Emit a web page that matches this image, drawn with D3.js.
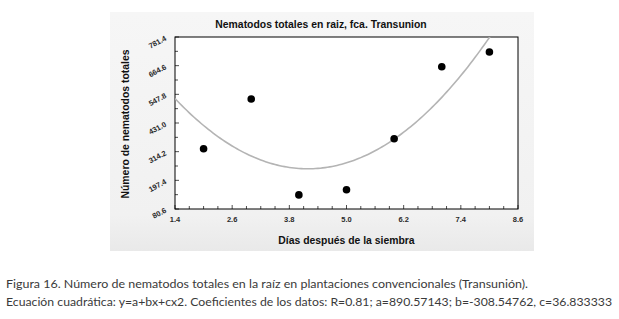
<!DOCTYPE html>
<meta charset="utf-8">
<style>
body { margin: 0; background: #fff; }
svg { font-family: Arial, "Liberation Sans", Helvetica, sans-serif; }
.caption { font-family: Lato, "Open Sans", sans-serif; fill: #3a3a3a; font-size: 11.5px; }
</style>
<body>
<script src="https://d3js.org/d3.v7.min.js"></script>
<script>
// data
const dias = [2, 3, 4, 5, 6, 7, 8];
const nematodos = [326, 529, 138, 159, 367, 660, 720];
const xTicks = [1.4, 2.6, 3.8, 5.0, 6.2, 7.4, 8.6];
const yTicks = [80.6, 197.4, 314.2, 431.0, 547.8, 664.6, 781.4];
// quadratic coefficients printed in the caption: y = a + b x + c x^2
const coef = [890.57143, -308.54762, 36.833333];

const svg = d3.select("body").append("svg")
  .attr("width", 619).attr("height", 319);

// grey panel behind the chart
const defs = svg.append("defs");
const grad = defs.append("linearGradient").attr("id", "panel")
  .attr("x1", 0).attr("y1", 0).attr("x2", 0).attr("y2", 1);
grad.append("stop").attr("offset", "0%").attr("stop-color", "#f6f6f6");
grad.append("stop").attr("offset", "85%").attr("stop-color", "#f1f1f1");
grad.append("stop").attr("offset", "100%").attr("stop-color", "#e9e9e9");
svg.append("rect").attr("x", 110).attr("y", 12).attr("width", 424).attr("height", 239)
  .attr("fill", "url(#panel)");

const pL = 175, pR = 518, pT = 37, pB = 209;
const x = d3.scaleLinear().domain([1.4, 8.6]).range([pL, pR]);
const y = d3.scaleLinear().domain([80.6, 781.4]).range([pB, pT]);

defs.append("clipPath").attr("id", "plot").append("rect")
  .attr("x", pL).attr("y", pT).attr("width", pR - pL).attr("height", pB - pT);

svg.append("rect").attr("x", pL).attr("y", pT)
  .attr("width", pR - pL).attr("height", pB - pT)
  .attr("fill", "#fff").attr("stroke", "#000").attr("stroke-width", 1);

// ticks (inward)
const xMinor = d3.range(0, 25).map(i => 1.4 + i * 0.3);
svg.append("g").selectAll("line").data(xMinor).join("line")
  .attr("x1", d => x(d)).attr("x2", d => x(d))
  .attr("y1", pB).attr("y2", (d, i) => pB - (i % 4 === 0 ? 4 : 3))
  .attr("stroke", "#000").attr("stroke-width", 0.7);
const yMinor = d3.range(0, 13).map(i => 80.6 + i * 58.4);
svg.append("g").selectAll("line").data(yMinor).join("line")
  .attr("y1", d => y(d)).attr("y2", d => y(d))
  .attr("x1", pL).attr("x2", (d, i) => pL + (i % 2 === 0 ? 4 : 3))
  .attr("stroke", "#000").attr("stroke-width", 0.7);

// tick labels
svg.append("g").selectAll("text").data(xTicks).join("text")
  .attr("x", d => x(d)).attr("y", 222)
  .attr("text-anchor", "middle")
  .attr("font-size", 7.5).attr("font-weight", "bold").attr("fill", "#2a2a2a")
  .text(d => d.toFixed(1));
svg.append("g").selectAll("text").data(yTicks).join("text")
  .attr("transform", d => `translate(167,${y(d) + 3}) rotate(-28)`)
  .attr("text-anchor", "end")
  .attr("font-size", 7.5).attr("font-weight", "bold").attr("fill", "#2a2a2a")
  .text(d => d.toFixed(1));

// fitted curve
const xs = d3.range(1.4, 8.61, 0.05);
const line = d3.line().x(d => x(d)).y(d => y(coef[0] + coef[1] * d + coef[2] * d * d));
svg.append("path").datum(xs).attr("d", line)
  .attr("clip-path", "url(#plot)")
  .attr("fill", "none").attr("stroke", "#b4b4b4").attr("stroke-width", 1.6);

// points
svg.append("g").selectAll("circle").data(dias).join("circle")
  .attr("cx", d => x(d)).attr("cy", (d, i) => y(nematodos[i]))
  .attr("r", 3.8).attr("fill", "#000");

// titles
svg.append("text").attr("x", 321).attr("y", 28).attr("text-anchor", "middle")
  .attr("font-size", 10.4).attr("font-weight", "bold").attr("fill", "#111")
  .text("Nematodos totales en raiz, fca. Transunion");
svg.append("text").attr("x", 346.5).attr("y", 244).attr("text-anchor", "middle")
  .attr("font-size", 10.4).attr("font-weight", "bold").attr("fill", "#111")
  .text("Días después de la siembra");
svg.append("text").attr("transform", "translate(129,124) rotate(-90)")
  .attr("text-anchor", "middle")
  .attr("font-size", 10.4).attr("font-weight", "bold").attr("fill", "#111")
  .text("Número de nematodos totales");

// caption
svg.append("text").attr("class", "caption").attr("x", 6).attr("y", 288)
  .attr("textLength", 522).attr("lengthAdjust", "spacingAndGlyphs")
  .text("Figura 16. Número de nematodos totales en la raíz en plantaciones convencionales (Transunión).");
svg.append("text").attr("class", "caption").attr("x", 6).attr("y", 306)
  .attr("textLength", 606).attr("lengthAdjust", "spacingAndGlyphs")
  .text("Ecuación cuadrática: y=a+bx+cx2. Coeficientes de los datos: R=0.81; a=890.57143; b=-308.54762, c=36.833333");
</script>
</body>
